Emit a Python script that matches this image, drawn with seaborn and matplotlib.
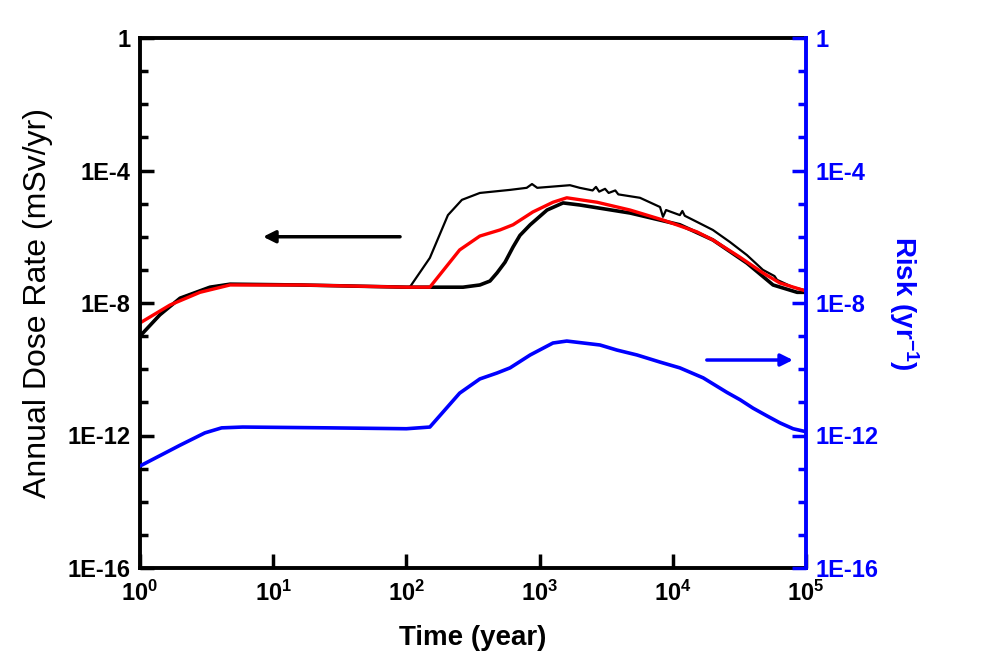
import matplotlib
matplotlib.use("Agg")
import matplotlib.pyplot as plt
from matplotlib.ticker import FixedLocator, FixedFormatter, NullLocator, NullFormatter
import pandas as pd
import seaborn as sns

# ==============================
# DATA
# ==============================
# dose curve 1 : early release, thin black (noisy after 1000 yr)
early_time = [1, 1.41, 2.0, 3.35, 4.74, 15.9, 106, 150, 205, 261, 356, 600, 800, 877,
              960, 1690, 2000, 2500, 2650, 2800, 3100, 3300, 3700, 3900, 5670, 8020,
              8440, 8900, 11300, 11800, 12300, 15200, 20000, 26900, 36000, 47500,
              58000, 60600, 80000, 100000]
early_dose = [1.0e-9, 4.4e-9, 1.4e-8, 3.0e-8, 3.7e-8, 3.5e-8, 3.0e-8, 2.3e-7, 4.5e-6,
              1.3e-5, 2.1e-5, 2.6e-5, 3.0e-5, 3.9e-5, 3.0e-5, 3.6e-5, 3.0e-5, 2.5e-5,
              3.2e-5, 2.3e-5, 2.8e-5, 2.1e-5, 2.5e-5, 1.9e-5, 1.5e-5, 7.9e-6, 4.0e-6,
              6.4e-6, 4.5e-6, 6.0e-6, 4.3e-6, 2.8e-6, 1.6e-6, 6.9e-7, 2.8e-7, 1.0e-7,
              6.5e-8, 5.0e-8, 3.0e-8, 2.4e-8]

# dose curve 2 : late release, thick black
late_time = [1, 1.41, 2.0, 3.35, 4.74, 15.9, 100, 266, 300, 356, 424, 479, 550, 632,
             712, 850, 1137, 1500, 2000, 4780, 11300, 20000, 36000, 56600, 85800,
             100000]
late_dose = [1.0e-9, 4.4e-9, 1.4e-8, 3.0e-8, 3.7e-8, 3.5e-8, 3.0e-8, 3.0e-8, 3.2e-8,
             3.5e-8, 4.6e-8, 8.1e-8, 1.7e-7, 4.9e-7, 1.1e-6, 2.3e-6, 6.4e-6, 1.05e-5,
             9.1e-6, 5.2e-6, 2.3e-6, 8.0e-7, 1.6e-7, 3.5e-8, 2.1e-8, 2.1e-8]

# dose curve 3 : red
mid_time = [1, 1.68, 2.82, 4.74, 15.9, 100, 150, 251, 356, 503, 632, 890, 1260, 1600,
            2700, 4780, 8440, 15200, 20000, 32000, 47500, 63800, 100000]
mid_dose = [2.5e-9, 8.7e-9, 2.1e-8, 3.5e-8, 3.5e-8, 3.0e-8, 3.0e-8, 4.0e-7, 1.05e-6,
            1.6e-6, 2.3e-6, 5.6e-6, 1.1e-5, 1.5e-5, 1.1e-5, 6.4e-6, 3.2e-6, 1.4e-6,
            8.0e-7, 2.4e-7, 8.1e-8, 4.0e-8, 2.3e-8]

# risk curve (right axis, blue)
risk_time = [1, 2.0, 3.07, 4.1, 5.9, 26.7, 100, 150, 251, 356, 479, 600, 850, 1260,
             1600, 2840, 3800, 5380, 8000, 11300, 16900, 25500, 32000, 40000, 51000,
             63800, 80000, 100000]
risk_value = [1.2e-13, 5.1e-13, 1.2e-12, 1.7e-12, 1.8e-12, 1.7e-12, 1.6e-12, 1.8e-12,
              1.9e-11, 5.1e-11, 7.7e-11, 1.1e-10, 2.7e-10, 6.2e-10, 7.1e-10, 5.4e-10,
              3.8e-10, 2.7e-10, 1.65e-10, 1.1e-10, 5.5e-11, 2.0e-11, 1.2e-11, 6.7e-12,
              3.9e-12, 2.4e-12, 1.6e-12, 1.3e-12]

y_major = [1e-16, 1e-12, 1e-8, 1e-4, 1]
y_major_labels = ["1E-16", "1E-12", "1E-8", "1E-4", "1"]
y_minor = [10.0 ** -k for k in range(1, 16) if k % 4 != 0]
x_major = [1, 10, 100, 1000, 10000, 100000]
x_major_labels = [r"$\mathbf{10^{%d}}$" % k for k in range(6)]

# arrows pointing at each axis
left_arrow = ((89.6, 1e-6), (8.4, 1e-6))
right_arrow = ((18000, 1.9e-10), (79800, 1.9e-10))

BLUE = "#0000FF"

# ==============================
# STYLE
# ==============================
sns.set_style("ticks")
plt.rcParams["font.family"] = ["Liberation Sans", "DejaVu Sans"]
plt.rcParams["text.color"] = "black"
plt.rcParams["axes.labelcolor"] = "black"
plt.rcParams["mathtext.fontset"] = "custom"
plt.rcParams["mathtext.rm"] = "Liberation Sans:bold"
plt.rcParams["mathtext.bf"] = "Liberation Sans:bold"
plt.rcParams["mathtext.it"] = "Liberation Sans:bold:italic"

fig = plt.figure(figsize=(9.89, 6.72), dpi=100)
ax = fig.add_axes([140 / 989, 1 - 568 / 672, 666 / 989, 530 / 672])

# ==============================
# DOSE CURVES (left axis)
# ==============================
sns.lineplot(data=pd.DataFrame({"t": late_time, "v": late_dose}), x="t", y="v",
             ax=ax, color="black", linewidth=2.6, estimator=None)
sns.lineplot(data=pd.DataFrame({"t": early_time, "v": early_dose}), x="t", y="v",
             ax=ax, color="black", linewidth=1.6, estimator=None)
sns.lineplot(data=pd.DataFrame({"t": mid_time, "v": mid_dose}), x="t", y="v",
             ax=ax, color="red", linewidth=2.4, estimator=None)

ax.set_xscale("log")
ax.set_yscale("log")
ax.set_xlim(1, 1e5)
ax.set_ylim(1e-16, 1)

ax.xaxis.set_major_locator(FixedLocator(x_major))
ax.xaxis.set_major_formatter(FixedFormatter(x_major_labels))
ax.xaxis.set_minor_locator(NullLocator())
ax.yaxis.set_major_locator(FixedLocator(y_major))
ax.yaxis.set_major_formatter(FixedFormatter(y_major_labels))
ax.yaxis.set_minor_locator(FixedLocator(y_minor))
ax.yaxis.set_minor_formatter(NullFormatter())

ax.tick_params(axis="both", which="major", direction="in", length=10, width=2.5,
               labelsize=17, pad=7, colors="black")
ax.tick_params(axis="y", which="minor", direction="in", length=6, width=2.5,
               colors="black")
ax.tick_params(axis="x", which="major", labelsize=17, pad=9)
for lab in ax.get_yticklabels():
    lab.set_fontweight("bold")

for side in ["left", "top", "bottom"]:
    ax.spines[side].set_linewidth(2.8)
    ax.spines[side].set_color("black")
ax.spines["right"].set_visible(False)

ax.set_xlabel("Time (year)", fontsize=20, fontweight="bold", labelpad=14,
              color="black")
ax.set_ylabel("Annual Dose Rate (mSv/yr)", fontsize=23, color="black")
ax.yaxis.set_label_coords(-0.13, 0.5)

ax.annotate("", xy=left_arrow[1], xytext=left_arrow[0],
            arrowprops=dict(arrowstyle="-|>", color="black", lw=2.5,
                            mutation_scale=18, shrinkA=0, shrinkB=0))

# ==============================
# RISK CURVE (right axis)
# ==============================
ax2 = ax.twinx()
sns.lineplot(data=pd.DataFrame({"t": risk_time, "v": risk_value}), x="t", y="v",
             ax=ax2, color=BLUE, linewidth=2.6, estimator=None)
ax2.set_yscale("log")
ax2.set_ylim(1e-16, 1)
ax2.set_xlim(1, 1e5)
ax2.yaxis.set_major_locator(FixedLocator(y_major))
ax2.yaxis.set_major_formatter(FixedFormatter(y_major_labels))
ax2.yaxis.set_minor_locator(FixedLocator(y_minor))
ax2.yaxis.set_minor_formatter(NullFormatter())
ax2.tick_params(axis="y", which="major", direction="in", length=10, width=2.5,
                labelsize=17, pad=7, colors=BLUE)
ax2.tick_params(axis="y", which="minor", direction="in", length=6, width=2.5,
                colors=BLUE)
for lab in ax2.get_yticklabels():
    lab.set_fontweight("bold")
for side in ["left", "top", "bottom"]:
    ax2.spines[side].set_visible(False)
ax2.spines["right"].set_linewidth(2.8)
ax2.spines["right"].set_color(BLUE)

ax2.set_xlabel("")
ax2.set_ylabel(r"Risk (yr$^{\mathbf{-1}}$)", fontsize=20, fontweight="bold",
               color=BLUE, rotation=270, labelpad=30)

ax2.annotate("", xy=right_arrow[1], xytext=right_arrow[0],
             arrowprops=dict(arrowstyle="-|>", color=BLUE, lw=2.5,
                             mutation_scale=18, shrinkA=0, shrinkB=0))

fig.savefig("out.png", dpi=100)
